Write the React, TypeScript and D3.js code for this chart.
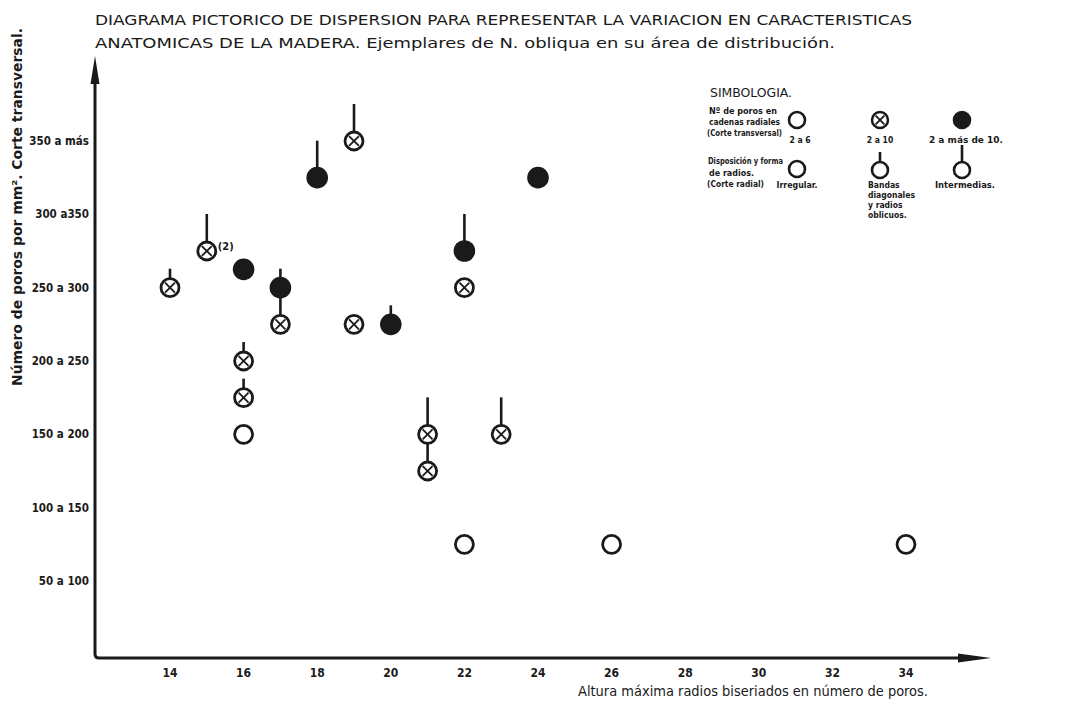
import React from 'react';
import * as d3 from 'd3';

// ---- Data ----
const yCategories = ["50 a 100", "100 a 150", "150 a 200", "200 a 250", "250 a 300", "300 a350", "350 a más"];
const xTicks = [14, 16, 18, 20, 22, 24, 26, 28, 30, 32, 34];

// altura máxima radios biseriados (x)
const alturas = [14, 15, 16, 17, 17, 16, 16, 16, 18, 19, 19, 20, 22, 22, 22, 21, 21, 23, 24, 26, 34];
// posición en la escala de categorías de poros/mm² (0 = "50 a 100" ... 6 = "350 a más")
const niveles = [4, 4.5, 4.25, 4, 3.5, 3, 2.5, 2, 5.5, 6, 3.5, 3.5, 4.5, 4, 0.5, 2, 1.5, 2, 5.5, 0.5, 0.5];
// Nº de poros en cadenas radiales: "a" = 2 a 6, "b" = 2 a 10, "c" = 2 a más de 10
const cadenas = ["b", "b", "c", "c", "b", "b", "b", "a", "c", "b", "b", "c", "c", "b", "a", "b", "b", "b", "c", "a", "a"];
// Disposición de radios: "i" = irregular, "d" = bandas diagonales, "m" = intermedias
const radios = ["d", "m", "i", "d", "m", "d", "d", "i", "m", "m", "i", "d", "m", "i", "i", "m", "m", "m", "i", "i", "i"];
const notas = ["", "(2)", "", "", "", "", "", "", "", "", "", "", "", "", "", "", "", "", "", "", ""];

const titleLine1 = "DIAGRAMA PICTORICO DE DISPERSION PARA REPRESENTAR LA VARIACION EN CARACTERISTICAS";
const titleLine2 = "ANATOMICAS DE LA MADERA.  Ejemplares de N. obliqua en su área de distribución.";
const yTitle = "Número de poros por mm². Corte transversal.";
const xTitle = "Altura máxima radios biseriados en número de poros.";

const INK = "#1a1a1a";

function Marker({ cx, cy, cadena, radio, r, stemShort, stemLong, sw = 2.8 }: any) {
  const stem = radio === "d" ? stemShort : radio === "m" ? stemLong : 0;
  const k = r * 0.55;
  return (
    <g>
      {stem > 0 && (
        <line x1={cx} y1={cy} x2={cx} y2={cy - stem} stroke={INK} strokeWidth={2.6} />
      )}
      {cadena === "c" ? (
        <circle cx={cx} cy={cy} r={r + 1.8} fill={INK} />
      ) : (
        <circle cx={cx} cy={cy} r={r} fill="#fff" stroke={INK} strokeWidth={sw} />
      )}
      {cadena === "b" && (
        <g stroke={INK} strokeWidth={1.8}>
          <line x1={cx - k} y1={cy - k} x2={cx + k} y2={cy + k} />
          <line x1={cx - k} y1={cy + k} x2={cx + k} y2={cy - k} />
        </g>
      )}
    </g>
  );
}

export default function App() {
  const x = d3.scaleLinear().domain([14, 34]).range([170, 906]);
  const y = d3.scaleLinear().domain([0, 6]).range([581, 141]);

  const axisX0 = 95;
  const axisY0 = 658;

  const points = alturas.map((a, i) => ({
    x: a, lvl: niveles[i], cadena: cadenas[i], radio: radios[i], nota: notas[i],
  }));
  // draw lower points first so their stems sit under the circles above
  const order = d3.range(points.length).sort((a, b) => points[a].lvl - points[b].lvl);

  const tickFont = "'DejaVu Sans Condensed', 'DejaVu Sans', sans-serif";
  const legendFont = "'DejaVu Sans Condensed', 'DejaVu Sans', sans-serif";

  return (
    <svg width={1084} height={705} style={{ position: 'absolute', left: 0, top: 0, background: '#fff' }}>
      <rect x={0} y={0} width={1084} height={705} fill="#fff" />
      {/* Title */}
      <text x={95} y={25} fontFamily={tickFont} fontSize={13.5} fill={INK} textLength={817} lengthAdjust="spacingAndGlyphs">{titleLine1}</text>
      <text x={95} y={48} fontFamily={tickFont} fontSize={13.5} fill={INK} textLength={740} lengthAdjust="spacingAndGlyphs">{titleLine2}</text>

      {/* Axes */}
      <path d={`M${axisX0},80 L${axisX0},${axisY0 - 4} Q${axisX0},${axisY0} ${axisX0 + 4},${axisY0} L962,${axisY0}`} fill="none" stroke={INK} strokeWidth={3} />
      <path d={`M${axisX0},56 L${axisX0 - 4.5},84 L${axisX0 + 4.5},84 Z`} fill={INK} />
      <path d={`M991,${axisY0} L958,${axisY0 - 4.5} L958,${axisY0 + 4.5} Z`} fill={INK} />

      {/* Y tick labels */}
      {yCategories.map((c, i) => (
        <text key={c} x={89} y={y(i)} dy="0.35em" textAnchor="end" fontFamily={tickFont} fontWeight="bold" fontSize={11.5} fill={INK}>{c}</text>
      ))}
      {/* X tick labels */}
      {xTicks.map((t) => (
        <text key={t} x={x(t)} y={677} textAnchor="middle" fontFamily={tickFont} fontWeight="bold" fontSize={12} fill={INK}>{t}</text>
      ))}

      {/* Axis titles */}
      <text transform="translate(22,207) rotate(-90)" textAnchor="middle" fontFamily={tickFont} fontWeight="bold" fontSize={14} fill={INK} textLength={358} lengthAdjust="spacingAndGlyphs">{yTitle}</text>
      <text x={578} y={696} fontFamily={tickFont} fontSize={13.5} fill={INK} textLength={350} lengthAdjust="spacingAndGlyphs">{xTitle}</text>

      {/* Points */}
      {order.map((i) => {
        const p = points[i];
        const cx = x(p.x);
        const cy = y(p.lvl);
        return (
          <g key={i}>
            <Marker cx={cx} cy={cy} cadena={p.cadena} radio={p.radio} r={9} stemShort={19} stemLong={37} />
            {p.nota && (
              <text x={cx + 11} y={cy - 1} fontFamily={tickFont} fontWeight="bold" fontSize={11} fill={INK}>{p.nota}</text>
            )}
          </g>
        );
      })}

      {/* Legend */}
      <g fontFamily={legendFont} fill={INK}>
        <text x={710} y={97} fontFamily={tickFont} fontSize={12.5} textLength={82} lengthAdjust="spacingAndGlyphs">SIMBOLOGIA.</text>
        <g fontSize={8.5} fontWeight="bold">
          <text x={709} y={114} textLength={68} lengthAdjust="spacingAndGlyphs">Nº de poros en</text>
          <text x={709} y={125} textLength={71} lengthAdjust="spacingAndGlyphs">cadenas radiales</text>
          <text x={707} y={136} fontSize={8} textLength={75} lengthAdjust="spacingAndGlyphs">(Corte transversal)</text>
          <text x={708} y={164} textLength={75} lengthAdjust="spacingAndGlyphs">Disposición y forma</text>
          <text x={709} y={176} textLength={45} lengthAdjust="spacingAndGlyphs">de radios.</text>
          <text x={707} y={187} textLength={57} lengthAdjust="spacingAndGlyphs">(Corte radial)</text>
        </g>
        <Marker cx={797} cy={120} cadena="a" radio="i" r={8} stemShort={0} stemLong={0} sw={2.6} />
        <Marker cx={880} cy={120} cadena="b" radio="i" r={8} stemShort={0} stemLong={0} sw={2.5} />
        <Marker cx={962} cy={120} cadena="c" radio="i" r={7.5} stemShort={0} stemLong={0} />
        <g fontSize={8.5} fontWeight="bold" textAnchor="middle">
          <text x={800} y={143}>2 a 6</text>
          <text x={880} y={143}>2 a 10</text>
          <text x={966} y={143} textLength={74} lengthAdjust="spacingAndGlyphs">2 a más de 10.</text>
        </g>
        <Marker cx={797} cy={169} cadena="a" radio="i" r={8} stemShort={16} stemLong={24} sw={2.6} />
        <Marker cx={880} cy={170} cadena="a" radio="d" r={8} stemShort={18} stemLong={24} sw={2.6} />
        <Marker cx={962} cy={170} cadena="a" radio="m" r={8} stemShort={16} stemLong={25} sw={2.6} />
        <g fontSize={8.5} fontWeight="bold">
          <text x={797} y={188} textAnchor="middle" textLength={41} lengthAdjust="spacingAndGlyphs">Irregular.</text>
          <text x={868} y={188}>Bandas</text>
          <text x={868} y={198}>diagonales</text>
          <text x={868} y={208}>y radios</text>
          <text x={868} y={218}>oblicuos.</text>
          <text x={965} y={188} textAnchor="middle" textLength={60} lengthAdjust="spacingAndGlyphs">Intermedias.</text>
        </g>
      </g>
    </svg>
  );
}
